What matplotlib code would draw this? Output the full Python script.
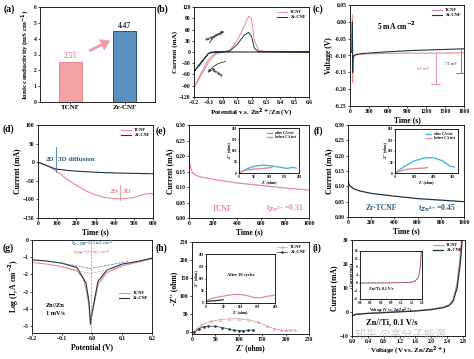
import matplotlib
matplotlib.use("Agg")
import matplotlib.pyplot as plt

plt.rcParams["font.family"] = ["Liberation Serif", "Noto Sans CJK SC", "DejaVu Sans"]
plt.rcParams["font.weight"] = "bold"
plt.rcParams["axes.labelweight"] = "bold"
plt.rcParams["axes.linewidth"] = 0.6
plt.rcParams["xtick.major.width"] = 0.5
plt.rcParams["ytick.major.width"] = 0.5
plt.rcParams["xtick.major.size"] = 1.5
plt.rcParams["ytick.major.size"] = 1.5
plt.rcParams["xtick.labelsize"] = 4
plt.rcParams["ytick.labelsize"] = 4
plt.rcParams["xtick.major.pad"] = 1
plt.rcParams["ytick.major.pad"] = 1
plt.rcParams["axes.labelpad"] = 1

PINK = "#e98a93"
DARK = "#1d3447"
BLUE = "#3f7ea6"
CYAN = "#48b6d8"

# (a) ionic conductivity
bar_names = ["TCNF", "Zr-CNF"]
bar_vals = [2.55, 4.47]

# (b) CV curves
cv_t_x = [-0.2, -0.15, -0.1, -0.05, 0.0, 0.05, 0.1, 0.15, 0.18, 0.2, 0.22, 0.25, 0.3, 0.6,
          0.3, 0.1, 0.0, -0.05, -0.1, -0.15, -0.2]
cv_t_y = [-95, -62, -28, -6, 0, 5, 30, 70, 95, 88, 30, 5, 1, 0,
          0, 0, 0, -2, -20, -55, -95]
cv_z_x = [-0.2, -0.15, -0.1, -0.05, 0.0, 0.05, 0.1, 0.15, 0.18, 0.2, 0.22, 0.25, 0.6,
          0.0, -0.08, -0.1, -0.12, -0.15, -0.2]
cv_z_y = [-52, -27, -4, 0, 0, 3, 20, 45, 52, 42, 10, 1, 0,
          0, 0, -4, -14, -30, -52]

# (c) voltage profile
vt_t_x = [0, 30, 38, 42, 46, 52, 60, 100, 200, 500, 900, 1300, 1800]
vt_t_y = [-0.09, -0.09, 0.02, -0.18, -0.12, -0.11, -0.102, -0.098, -0.096, -0.094, -0.093, -0.093, -0.092]
vt_z_x = [0, 30, 38, 42, 46, 52, 60, 100, 200, 500, 1000, 1500, 1800]
vt_z_y = [-0.09, -0.09, 0.0, -0.15, -0.11, -0.105, -0.1, -0.097, -0.094, -0.09, -0.085, -0.082, -0.08]

# (d) chronoamperometry
ca_t_x = [0, 50, 90, 150, 200, 250, 300, 350, 400, 450, 500, 550, 580, 600]
ca_t_y = [0, -10, -22, -45, -62, -77, -88, -95, -98, -98, -95, -87, -84, -86]
ca_z_x = [0, 50, 90, 150, 200, 300, 400, 500, 600]
ca_z_y = [0, -10, -18, -22, -24, -27, -29, -30, -31]

# (e) TCNF polarization current + inset EIS
pe_x = [0, 5, 15, 30, 60, 100, 200, 400, 600, 800, 1000]
pe_y = [0.20, 0.18, 0.16, 0.145, 0.137, 0.132, 0.125, 0.113, 0.105, 0.097, 0.09]
ie_after_x = [0, 20, 50, 80, 110, 140, 160, 180, 190]
ie_after_y = [0, 15, 30, 35, 31, 25, 20, 25, 22]
ie_before_x = [0, 20, 50, 80, 110]
ie_before_y = [0, 12, 17, 20, 25]

# (f) Zr polarization current + inset EIS
pf_x = [0, 5, 20, 50, 100, 200, 400, 600, 800, 1000]
pf_y = [0.12, 0.11, 0.10, 0.092, 0.085, 0.077, 0.068, 0.06, 0.055, 0.05]
if_after_x = [0, 50, 100, 150, 200, 250, 290, 310]
if_after_y = [0, 30, 55, 68, 70, 55, 30, 28]
if_before_x = [0, 50, 100, 150, 170]
if_before_y = [0, 15, 20, 22, 25]

# (g) Tafel
tf_t_x = [-0.2, -0.15, -0.1, -0.05, -0.03, -0.02, -0.01, -0.005, 0.0, 0.01, 0.02, 0.05, 0.1, 0.15, 0.2]
tf_t_y = [-1.3, -1.4, -1.55, -1.8, -2.2, -2.8, -3.8, -4.7, -4.2, -3.5, -2.6, -1.9, -1.5, -1.3, -1.1]
tf_z_x = [-0.2, -0.15, -0.1, -0.05, -0.02, -0.01, -0.005, 0.0, 0.01, 0.02, 0.05, 0.1, 0.15, 0.2]
tf_z_y = [-1.15, -1.22, -1.35, -1.6, -2.5, -3.6, -4.9, -4.3, -3.3, -2.4, -1.75, -1.4, -1.25, -1.05]
tdash_z_x = [-0.13, -0.005, 0.12]
tdash_z_y = [-1.25, -1.65, -1.25]
tdash_t_x = [-0.1, -0.005, 0.1]
tdash_t_y = [-1.55, -1.95, -1.55]

# (h) Nyquist
ny_t_x = [3, 10, 20, 40, 60, 80, 100, 120, 140, 160, 175, 190, 200, 210, 220]
ny_t_y = [0, 10, 20, 30, 35, 37, 37, 35, 28, 18, 10, 6, 5, 6, 7]
ny_z_x = [5, 15, 25, 35, 50, 65, 80, 90, 100, 110, 120, 130]
ny_z_y = [0, 10, 15, 17, 16, 13, 8, 5, 4, 4, 5, 6]
ih_t_x = [0, 20, 50, 80, 100, 120, 140, 160, 180, 200]
ih_t_y = [10, 20, 28, 35, 35, 30, 22, 22, 28, 32]
ih_z_x = [0, 10, 30, 50]
ih_z_y = [5, 8, 10, 13]

# (i) LSV
lsv_t_x = [0, 0.1, 0.4, 1.0, 1.6, 2.0, 2.3, 2.45, 2.55, 2.65, 2.72, 2.76]
lsv_t_y = [-1.5, -0.8, -0.5, 0, 0.5, 1.2, 2, 3, 5, 12, 22, 30]
lsv_z_x = [0, 0.1, 0.4, 1.0, 1.6, 2.0, 2.3, 2.45, 2.55, 2.65, 2.73, 2.78]
lsv_z_y = [-1.7, -1.0, -0.6, -0.1, 0.4, 1.0, 1.8, 2.7, 4.5, 10, 20, 30]
ii_x = [0, 0.3, 0.6, 0.9, 1.2, 1.5, 1.6, 1.7, 1.75, 1.78]
ii_y = [0, 0, 0, 0.1, 0.2, 0.4, 1, 3, 8, 16]

W, H = 474, 359
fig = plt.figure(figsize=(W / 100, H / 100), dpi=100)


def ax_px(x0, y0, x1, y1):
    return fig.add_axes([x0 / W, 1 - y1 / H, (x1 - x0) / W, (y1 - y0) / H])


def letter(x, y, s):
    fig.text(x / W, 1 - y / H, s, fontsize=7, fontweight="bold", va="center")


def small_legend(ax, loc="upper right", **kw):
    ax.legend(loc=loc, fontsize=3.2, frameon=False, handlelength=2.2, labelspacing=0.2,
              borderaxespad=0.3, **kw)


# ---- (a)
ax = ax_px(40, 7, 155, 102)
ax.bar([0, 1], bar_vals, width=0.42, color=["#f4a2a5", "#5b8fc0"], edgecolor=["#e07a80", "#1f3d5c"], linewidth=0.6)
ax.set_xticks([0, 1])
ax.set_xticklabels(bar_names, fontsize=5)
ax.set_xlim(-0.55, 1.55)
ax.set_ylim(0, 6)
ax.set_ylabel("Ionic conductivity (mS cm$^{-1}$)", fontsize=5)
ax.text(0, bar_vals[0] + 0.1, f"{bar_vals[0]:.2f}", color=PINK, ha="center", va="bottom", fontsize=5.5)
ax.text(1, bar_vals[1] + 0.1, f"{bar_vals[1]:.2f}", color=DARK, ha="center", va="bottom", fontsize=5.5)
ax.annotate("", xy=(0.78, 3.95), xytext=(0.3, 3.15),
            arrowprops=dict(arrowstyle="simple,head_width=0.9,head_length=0.7", color="#ef9aa6", lw=0))
letter(4, 9, "(a)")

# ---- (b)
ax = ax_px(194, 7, 309, 97)
ax.plot(cv_t_x, cv_t_y, color=PINK, lw=0.7, label="TCNF")
ax.plot(cv_z_x, cv_z_y, color=DARK, lw=0.7, label="Zr-CNF")
ax.set_xlim(-0.2, 0.6)
ax.set_ylim(-120, 120)
ax.set_xticks([-0.2, -0.1, 0.0, 0.1, 0.2, 0.3, 0.4, 0.5, 0.6])
ax.set_yticks(range(-120, 121, 30))
ax.set_xlabel("Potential v.s. Zn$^{2+}$/Zn (V)", fontsize=5)
ax.set_ylabel("Current (mA)", fontsize=5)
small_legend(ax)
ax.text(-0.06, 42, "Stripping", rotation=25, fontsize=3.2, ha="center", va="center")
ax.annotate("", xy=(0.03, 55), xytext=(-0.1, 18), arrowprops=dict(arrowstyle="-|>", lw=0.6, color="#333333",
            connectionstyle="arc3,rad=-0.3", mutation_scale=4))
ax.text(-0.04, -55, "Plating", rotation=-30, fontsize=3.2, ha="center", va="center")
ax.annotate("", xy=(-0.11, -62), xytext=(0.04, -25), arrowprops=dict(arrowstyle="-|>", lw=0.6, color="#333333",
            connectionstyle="arc3,rad=0.3", mutation_scale=4))
letter(157, 9, "(b)")

# ---- (c)
ax = ax_px(350, 5, 464, 106)
ax.plot(vt_t_x, vt_t_y, color=PINK, lw=0.8, label="TCNF")
ax.plot(vt_z_x, vt_z_y, color=DARK, lw=0.8, label="Zr-CNF")
ax.set_xlim(0, 1800)
ax.set_ylim(-0.25, 0.05)
ax.set_xticks(range(0, 1801, 300))
ax.set_yticks([-0.25, -0.20, -0.15, -0.10, -0.05, 0.00, 0.05])
ax.set_yticklabels(["-0.25", "-0.20", "-0.15", "-0.10", "-0.05", "0.00", "0.05"])
ax.set_xlabel("Time (s)", fontsize=5.5)
ax.set_ylabel("Voltage (V)", fontsize=5.5)
small_legend(ax)
ax.text(420, -0.025, "5 mA cm$^{-2}$", fontsize=5.5, fontweight="bold")
ax.plot([1350, 1350], [-0.093, -0.185], color=PINK, lw=0.6)
ax.plot([1280, 1420], [-0.185, -0.185], color=PINK, lw=0.6)
ax.text(1250, -0.14, "93 mV", color=PINK, fontsize=3.2, ha="right", va="center")
ax.plot([1750, 1750], [-0.08, -0.153], color=BLUE, lw=0.6)
ax.plot([1680, 1800], [-0.153, -0.153], color=BLUE, lw=0.6)
ax.text(1690, -0.125, "73 mV", color=BLUE, fontsize=3.2, ha="right", va="center")
letter(313, 9, "(c)")

# ---- (d)
ax = ax_px(38, 125, 153, 218)
ax.plot(ca_t_x, ca_t_y, color=PINK, lw=0.8, label="TCNF")
ax.plot(ca_z_x, ca_z_y, color=DARK, lw=0.8, label="Zr-CNF")
ax.set_xlim(0, 600)
ax.set_ylim(-150, 100)
ax.set_xticks(range(0, 601, 100))
ax.set_yticks(range(-150, 101, 50))
ax.set_xlabel("Time (s)", fontsize=5.5)
ax.set_ylabel("Current (mA)", fontsize=5.5)
small_legend(ax)
ax.plot([95, 95], [-25, 42], color=BLUE, lw=0.6)
ax.text(85, 8, "2D", color="#2b5f84", fontsize=5, ha="right", va="center")
ax.text(105, 8, "3D diffusion", color="#2b5f84", fontsize=5, ha="left", va="center")
ax.plot([430, 430], [-102, -62], color=PINK, lw=0.6)
ax.text(420, -78, "2D", color=PINK, fontsize=5, ha="right", va="center")
ax.text(440, -78, "3D", color=PINK, fontsize=5, ha="left", va="center")
letter(3, 129, "(d)")

# ---- (e)
ax = ax_px(189, 125, 309, 218)
ax.plot(pe_x, pe_y, color=PINK, lw=0.9)
ax.set_xlim(0, 1000)
ax.set_ylim(0, 0.30)
ax.set_xticks(range(0, 1001, 200))
ax.set_yticks([0, 0.05, 0.10, 0.15, 0.20, 0.25, 0.30])
ax.set_yticklabels(["0.00", "0.05", "0.10", "0.15", "0.20", "0.25", "0.30"])
ax.set_xlabel("Time (s)", fontsize=5.5)
ax.set_ylabel("Current (mA)", fontsize=5.5)
ax.text(190, 0.03, "TCNF", color=PINK, fontsize=5.5, va="center")
ax.text(640, 0.03, "t$_{Zn^{2+}}$=0.31", color=PINK, fontsize=5.5, va="center")
iax = ax_px(239, 128, 299, 173)
iax.plot(ie_after_x, ie_after_y, color=CYAN, lw=1.0, label="after CA test")
iax.plot(ie_before_x, ie_before_y, color=PINK, lw=1.0, label="before CA test")
iax.set_xlim(0, 200)
iax.set_ylim(0, 200)
iax.set_xticks(range(0, 201, 50))
iax.set_yticks(range(0, 201, 50))
iax.tick_params(labelsize=2.5, length=1, pad=0.5)
iax.set_xlabel("Z' (ohm)", fontsize=2.8, labelpad=0.5)
iax.set_ylabel("-Z'' (ohm)", fontsize=2.8, labelpad=0.5)
iax.legend(loc="upper right", fontsize=2.5, frameon=False, handlelength=1.5, labelspacing=0.1)
letter(156, 131, "(e)")

# ---- (f)
ax = ax_px(348, 125, 464, 217)
ax.plot(pf_x, pf_y, color=DARK, lw=0.9)
ax.set_xlim(0, 1000)
ax.set_ylim(0, 0.30)
ax.set_xticks(range(0, 1001, 200))
ax.set_yticks([0, 0.05, 0.10, 0.15, 0.20, 0.25, 0.30])
ax.set_yticklabels(["0.00", "0.05", "0.10", "0.15", "0.20", "0.25", "0.30"])
ax.set_xlabel("Time (s)", fontsize=5.5)
ax.set_ylabel("Current (mA)", fontsize=5.5)
ax.text(150, 0.03, "Zr-TCNF", color="#2b5f84", fontsize=5.5, va="center")
ax.text(600, 0.03, "t$_{Zn^{2+}}$=0.45", color="#2b5f84", fontsize=5.5, va="center")
iax = ax_px(395, 129, 458, 173)
iax.plot(if_after_x, if_after_y, color=CYAN, lw=1.0, label="after CA test")
iax.plot(if_before_x, if_before_y, color=PINK, lw=1.0, label="before CA test")
iax.set_xlim(0, 330)
iax.set_ylim(0, 200)
iax.set_xticks(range(0, 301, 100))
iax.set_yticks(range(0, 201, 50))
iax.tick_params(labelsize=2.5, length=1, pad=0.5)
iax.set_xlabel("Z' (ohm)", fontsize=2.8, labelpad=0.5)
iax.set_ylabel("-Z'' (ohm)", fontsize=2.8, labelpad=0.5)
iax.legend(loc="upper right", fontsize=2.5, frameon=False, handlelength=1.5, labelspacing=0.1)
letter(314, 131, "(f)")

# ---- (g)
ax = ax_px(32, 240, 152, 333)
ax.plot(tf_t_x, tf_t_y, color=PINK, lw=0.8, label="TCNF")
ax.plot(tf_z_x, tf_z_y, color=DARK, lw=0.8, label="Zr-CNF")
ax.plot(tdash_z_x, tdash_z_y, color=BLUE, lw=0.5, ls="--")
ax.plot(tdash_t_x, tdash_t_y, color=PINK, lw=0.5, ls="--")
ax.axvline(-0.005, color="#7aa0c0", lw=0.5, ls="--")
ax.set_xlim(-0.2, 0.2)
ax.set_ylim(-5.4, 0)
ax.set_xticks([-0.2, -0.1, 0.0, 0.1, 0.2])
ax.set_yticks([-5, -4, -3, -2, -1, 0])
ax.set_xlabel("Potential (V)", fontsize=5.5)
ax.set_ylabel("Log (I, A cm$^{-2}$)", fontsize=5.5)
ax.legend(loc="center right", bbox_to_anchor=(1.0, 0.4), fontsize=3.2, frameon=False,
          handlelength=2.2, labelspacing=0.2)
ax.text(0.0, -0.2, "I$_{Zr-CNF}$=22.3 mA cm$^{-2}$", color=BLUE, fontsize=2.8, ha="center", va="center")
ax.text(0.0, -0.72, "I$_{TCNF}$=12.6 mA cm$^{-2}$", color=PINK, fontsize=2.8, ha="center", va="center")
ax.text(-0.155, -3.8, "Zn//Zn", fontsize=4.5, va="center")
ax.text(-0.155, -4.25, "1 mV/s", fontsize=4.5, va="center")
letter(3, 248, "(g)")

# ---- (h)
ax = ax_px(192, 242, 309, 334)
ax.plot(ny_t_x, ny_t_y, color=PINK, lw=0.5, marker="^", ms=1.6, mfc="none", mew=0.4, label="TCNF")
ax.plot(ny_z_x, ny_z_y, color=DARK, lw=0.5, marker="o", ms=1.4, mew=0.4, label="Zr-CNF")
ax.set_xlim(0, 250)
ax.set_ylim(-5, 250)
ax.set_xticks(range(0, 251, 50))
ax.set_yticks(range(0, 251, 50))
ax.set_xlabel("Z' (ohm)", fontsize=5.5)
ax.set_ylabel("-Z'' (ohm)", fontsize=5.5)
small_legend(ax)
iax = ax_px(206, 254, 275, 303)
iax.plot(ih_t_x, ih_t_y, color=PINK, lw=0.9)
iax.plot(ih_z_x, ih_z_y, color=DARK, lw=0.9)
iax.set_xlim(0, 200)
iax.set_ylim(0, 200)
iax.set_xticks(range(0, 201, 50))
iax.set_yticks(range(0, 201, 50))
iax.tick_params(labelsize=2.5, length=1, pad=0.5)
iax.set_xlabel("Z' (ohm)", fontsize=2.8, labelpad=0.5)
iax.set_ylabel("-Z'' (ohm)", fontsize=2.8, labelpad=0.5)
iax.text(100, 115, "After 10 cycles", fontsize=3.2, ha="center", va="center")
letter(156, 248, "(h)")

# ---- (i)
ax = ax_px(352, 240, 465, 336)
ax.plot(lsv_t_x, lsv_t_y, color=PINK, lw=0.9, label="TCNF")
ax.plot(lsv_z_x, lsv_z_y, color=DARK, lw=0.9, label="Zr-CNF")
ax.set_xlim(0, 2.85)
ax.set_ylim(-10, 30)
ax.set_xticks([0.0, 0.4, 0.8, 1.2, 1.6, 2.0, 2.4, 2.8])
ax.set_yticks([-10, 0, 10, 20, 30])
ax.set_xlabel("Voltage (V vs. Zn/Zn$^{2+}$)", fontsize=5, labelpad=0.5)
ax.set_ylabel("Current (mA)", fontsize=5.5)
small_legend(ax)
ax.text(0.35, -4.3, "Zn//Ti, 0.1 V/s", fontsize=6, va="center")
iax = ax_px(360, 251, 422, 299)
iax.plot(ii_x, ii_y, color=PINK, lw=0.8)
iax.plot(ii_x, ii_y, color=DARK, lw=0.5, ls=(0, (1, 1)))
iax.set_xlim(0, 1.8)
iax.set_ylim(-8, 16)
iax.set_xticks([0.0, 0.3, 0.6, 0.9, 1.2, 1.5, 1.8])
iax.set_yticks(range(-8, 17, 4))
iax.tick_params(labelsize=2.5, length=1, pad=0.5)
iax.set_xlabel("Voltage (V vs. Zn/Zn$^{2+}$)", fontsize=2.8, labelpad=0.5)
iax.set_ylabel("Current (mA)", fontsize=2.8, labelpad=0.5)
iax.text(0.25, -3, "Zn//Ti, 0.1 V/s", fontsize=3, va="center")
letter(313, 248, "(i)")

# watermark
fig.text(400 / W, 1 - 334 / H, "知乎 @高分子能源", fontsize=8, color="#999999", alpha=0.5,
         family=["Noto Sans CJK SC", "DejaVu Sans"], ha="center", va="center", fontweight="normal")

fig.savefig("out.png", dpi=100)
